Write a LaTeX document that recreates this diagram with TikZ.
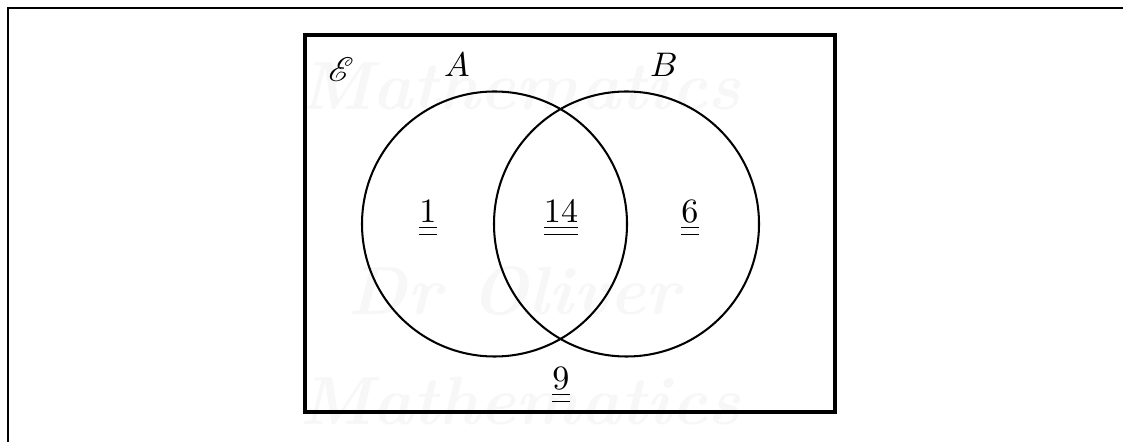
\documentclass[tikz,border=0pt]{standalone}
\usepackage{amsmath}
\usepackage{mathrsfs}
\usepackage{tikz}
\usetikzlibrary{positioning}

\tikzset{
  setlabel/.style={anchor=base,inner sep=1pt},
  count/.style={anchor=base,inner sep=1pt},
  wmark/.style={anchor=base,text=black!3,font=\fontsize{20}{24}\selectfont\bfseries\itshape}
}
\newcommand{\dul}[1]{\underline{\underline{#1}}}

\begin{document}
\begin{tikzpicture}[x=0.0103cm,y=-0.0103cm]
\useasboundingbox (0,0) rectangle (1123,442);

% page frame
\draw[line width=0.4pt] (8,442) -- (8,8) -- (1123,8);

% watermark
\node[wmark] (wm1) at (520,110) {Mathematics};
\node[wmark] (wm2) at (514,315) {Dr Oliver};
\node[wmark] (wm3) at (520,425) {Mathematics};

% universal set
\draw[line width=1.2pt] (305,35) rectangle (835,412);
\node[setlabel] (nE) at (341,82) {$\mathscr{E}$};

% the two sets
\draw[line width=0.6pt] (494.5,224) circle[radius=132.5];
\draw[line width=0.6pt] (626.5,224) circle[radius=132.5];
\node[setlabel] (nA) at (457,77) {$A$};
\node[setlabel] (nB) at (664,77) {$B$};

% counts
\node[count] (onlyA) at (428,223) {$\dul{1}$};
\node[count] (both) at (561,223) {$\dul{14}$};
\node[count] (onlyB) at (690,223) {$\dul{6}$};
\node[count] (none) at (561,390) {$\dul{9}$};
\end{tikzpicture}
\end{document}
